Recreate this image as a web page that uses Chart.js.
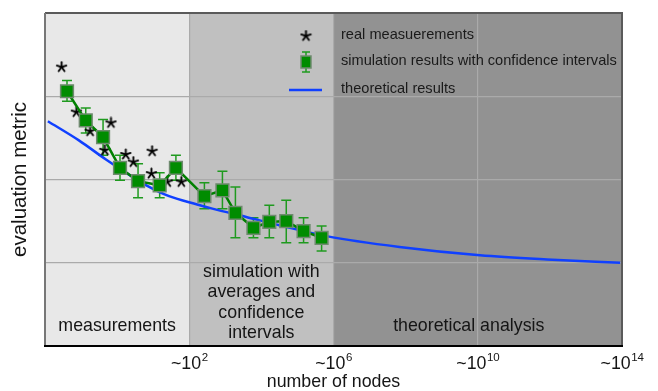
<!DOCTYPE html>
<html>
<head>
<meta charset="utf-8">
<script src="https://cdn.jsdelivr.net/npm/chart.js@4.4.1/dist/chart.umd.min.js"></script>
<style>
  html, body { margin: 0; padding: 0; background: #fff; }
  #wrap { width: 658px; height: 391px; }
</style>
</head>
<body>
<div id="wrap"><canvas id="c" width="658" height="391"></canvas></div>
<script>
const FONT = 'Helvetica, "Liberation Sans", Arial, sans-serif';

// x values are exponents: number of nodes ~ 10^x
const xTicks = [2, 6, 10, 14];

// real measurements (stars)
const realX = [-1.54, -1.13, -0.75, -0.17, -0.34, 0.24, 0.45, 0.97, 0.95, 1.39, 1.78];
const realY = [3.35, 2.81, 2.58, 2.68, 2.35, 2.30, 2.21, 2.34, 2.07, 1.97, 1.97];

// simulation results with confidence intervals
const simX    = [-1.39, -0.87, -0.39, 0.08, 0.58, 1.18, 1.63, 2.42, 2.92, 3.28, 3.78, 4.22, 4.69, 5.17, 5.67];
const simY    = [3.06, 2.71, 2.51, 2.14, 1.98, 1.93, 2.14, 1.80, 1.87, 1.60, 1.42, 1.49, 1.50, 1.38, 1.30];
const simHigh = [3.19, 2.86, 2.72, 2.29, 2.19, 2.08, 2.29, 1.96, 2.10, 1.91, 1.54, 1.69, 1.75, 1.54, 1.44];
const simLow  = [2.94, 2.56, 2.29, 1.99, 1.78, 1.78, 1.99, 1.65, 1.65, 1.30, 1.30, 1.30, 1.24, 1.24, 1.14];

// theoretical results (curve)
const theoX = [-1.92, -1.06, -0.31, 0.25, 0.81, 1.44, 2.22, 2.64, 3.58, 4.50, 5.80, 7.83, 10.06, 11.92, 13.95];
const theoY = [2.70, 2.47, 2.24, 2.08, 1.93, 1.80, 1.70, 1.65, 1.55, 1.45, 1.32, 1.19, 1.09, 1.04, 1.00];

// background regions
const regionFrom   = [-2, 2, 6];
const regionTo     = [2, 6, 14];
const regionLabels = [["measurements"], ["simulation with", "averages and", "confidence", "intervals"], ["theoretical analysis"]];

const legendLabels = ["real measuerements", "simulation results with confidence intervals", "theoretical results"];

/* ── star marker ── */
function makeStar() {
  const cv = document.createElement("canvas");
  cv.width = 13; cv.height = 13;
  const g = cv.getContext("2d");
  g.strokeStyle = "#000";
  g.lineWidth = 1.9;
  g.lineCap = "round";
  for (let k = 0; k < 5; k++) {
    const a = -Math.PI / 2 + k * 2 * Math.PI / 5;
    g.beginPath();
    g.moveTo(6.5, 6.5);
    g.lineTo(6.5 + 5 * Math.cos(a), 6.5 + 5 * Math.sin(a));
    g.stroke();
  }
  return cv;
}
const starImg = makeStar();

/* ── error bars ── */
function drawErrorBars(ctx, xs, ys) {
  ctx.save();
  ctx.strokeStyle = "#1f9a1f";
  ctx.lineWidth = 1.5;
  simX.forEach((v, i) => {
    const px = xs.getPixelForValue(v);
    const top = ys.getPixelForValue(simHigh[i]);
    const bot = ys.getPixelForValue(simLow[i]);
    ctx.beginPath();
    ctx.moveTo(px, top); ctx.lineTo(px, bot);
    ctx.moveTo(px - 5, top); ctx.lineTo(px + 5, top);
    ctx.moveTo(px - 5, bot); ctx.lineTo(px + 5, bot);
    ctx.stroke();
  });
  ctx.restore();
}

/* ── plugin: fundo, textos, moldura, legenda ── */
const deco = {
  id: "deco",
  beforeDraw(chart) {
    const { ctx, chartArea: a, scales } = chart;
    const cols = ["#e8e8e8", "#c0c0c0", "#929292"];
    ctx.save();
    regionFrom.forEach((f, i) => {
      const x0 = scales.x.getPixelForValue(f);
      const x1 = scales.x.getPixelForValue(regionTo[i]);
      ctx.fillStyle = cols[i];
      ctx.fillRect(x0, a.top, x1 - x0, a.bottom - a.top);
    });
    ctx.restore();
  },
  beforeDatasetsDraw(chart) {
    const { ctx, chartArea: a, scales } = chart;
    ctx.save();
    ctx.fillStyle = "#151515";
    ctx.font = "17.8px " + FONT;
    ctx.textAlign = "center";
    ctx.textBaseline = "middle";
    regionLabels.forEach((lines, i) => {
      const cx = (scales.x.getPixelForValue(regionFrom[i]) + scales.x.getPixelForValue(regionTo[i])) / 2 - (i === 2 ? 9 : 0);
      const step = 20.3;
      const y0 = lines.length > 1 ? a.bottom - 13 - step * (lines.length - 1) : a.bottom - 20;
      lines.forEach((t, j) => ctx.fillText(t, cx, y0 + j * step));
    });
    ctx.restore();
    drawErrorBars(ctx, scales.x, scales.y);
  },
  afterDraw(chart) {
    const { ctx, chartArea: a, scales } = chart;
    ctx.save();
    // moldura
    ctx.strokeStyle = "#5a5a5a";
    ctx.lineWidth = 2;
    ctx.beginPath();
    ctx.moveTo(a.left, a.top); ctx.lineTo(a.right, a.top); ctx.lineTo(a.right, a.bottom);
    ctx.stroke();
    ctx.strokeStyle = "#777";
    ctx.beginPath();
    ctx.moveTo(a.left, a.top); ctx.lineTo(a.left, a.bottom);
    ctx.stroke();
    ctx.strokeStyle = "#000";
    ctx.beginPath();
    ctx.moveTo(a.left - 1, a.bottom); ctx.lineTo(a.right + 1, a.bottom);
    ctx.stroke();

    // rótulos do eixo x com expoente
    ctx.fillStyle = "#151515";
    ctx.textBaseline = "alphabetic";
    xTicks.forEach(v => {
      const base = "~10", exp = String(v);
      ctx.font = "17.8px " + FONT;
      const wb = ctx.measureText(base).width;
      ctx.font = "11.5px " + FONT;
      const we = ctx.measureText(exp).width;
      const px = scales.x.getPixelForValue(v) - (wb + we) / 2;
      ctx.font = "17.8px " + FONT;
      ctx.textAlign = "left";
      ctx.fillText(base, px, a.bottom + 23);
      ctx.font = "11.5px " + FONT;
      ctx.fillText(exp, px + wb + 0.5, a.bottom + 15);
    });

    // legenda
    const lx = 306, ly = [36, 62, 90];
    ctx.drawImage(starImg, lx - 6.5, ly[0] - 6.5);
    ctx.strokeStyle = "#1f9a1f";
    ctx.lineWidth = 1.5;
    ctx.beginPath();
    ctx.moveTo(lx, ly[1] - 10); ctx.lineTo(lx, ly[1] + 10);
    ctx.moveTo(lx - 4, ly[1] - 10); ctx.lineTo(lx + 4, ly[1] - 10);
    ctx.moveTo(lx - 4, ly[1] + 10); ctx.lineTo(lx + 4, ly[1] + 10);
    ctx.stroke();
    ctx.fillStyle = "#008c00";
    ctx.fillRect(lx - 5, ly[1] - 6, 10, 12);
    ctx.strokeStyle = "#6f8a6f";
    ctx.strokeRect(lx - 5, ly[1] - 6, 10, 12);
    ctx.strokeStyle = "#1040ff";
    ctx.lineWidth = 2.5;
    ctx.beginPath();
    ctx.moveTo(lx - 17, ly[2]); ctx.lineTo(lx + 16, ly[2]);
    ctx.stroke();
    ctx.fillStyle = "#1a1a1a";
    ctx.font = "14.6px " + FONT;
    ctx.textAlign = "left";
    ctx.textBaseline = "middle";
    legendLabels.forEach((t, i) => ctx.fillText(t, 341, ly[i] - 1));
    ctx.restore();
  }
};

new Chart(document.getElementById("c"), {
  type: "scatter",
  data: {
    datasets: [
      {
        label: legendLabels[2],
        type: "line",
        data: theoX.map((x, i) => ({ x, y: theoY[i] })),
        borderColor: "#1040ff",
        borderWidth: 2.5,
        pointRadius: 0,
        cubicInterpolationMode: "monotone",
        fill: false,
        order: 3
      },
      {
        label: legendLabels[0],
        data: realX.map((x, i) => ({ x, y: realY[i] })),
        pointStyle: starImg,
        pointRadius: 6,
        order: 2
      },
      {
        label: legendLabels[1],
        type: "line",
        data: simX.map((x, i) => ({ x, y: simY[i] })),
        borderColor: "#008000",
        borderWidth: 2.5,
        pointStyle: "rect",
        pointRadius: 9,
        pointBackgroundColor: "#008c00",
        pointBorderColor: "#6f8a6f",
        pointBorderWidth: 1.5,
        tension: 0,
        fill: false,
        order: 1
      }
    ]
  },
  options: {
    responsive: false,
    animation: false,
    layout: { padding: { top: 13, right: 36, left: 0, bottom: 0 } },
    plugins: { legend: { display: false }, tooltip: { enabled: false } },
    scales: {
      x: {
        type: "linear",
        min: -2, max: 14,
        afterBuildTicks: s => { s.ticks = xTicks.map(v => ({ value: v })); },
        afterFit: s => { s.height = 45; },
        ticks: { display: false },
        grid: { color: "#aaaaaa", lineWidth: 1.2, drawTicks: false },
        border: { display: false },
        title: {
          display: true, text: "number of nodes", color: "#151515",
          font: { family: FONT, size: 17.8, lineHeight: 1 }, padding: { top: 0, bottom: 0 }
        }
      },
      y: {
        min: 0, max: 4,
        afterBuildTicks: s => { s.ticks = [1, 2, 3].map(v => ({ value: v })); },
        afterFit: s => { s.width = 45; },
        ticks: { display: false },
        grid: { color: "#aaaaaa", lineWidth: 1.2, drawTicks: false },
        border: { display: false },
        title: {
          display: true, text: "evaluation metric", color: "#151515",
          font: { family: FONT, size: 20.5, lineHeight: 1 }, padding: { top: 10.5, bottom: 0 }
        }
      }
    }
  },
  plugins: [deco]
});
</script>
</body>
</html>
